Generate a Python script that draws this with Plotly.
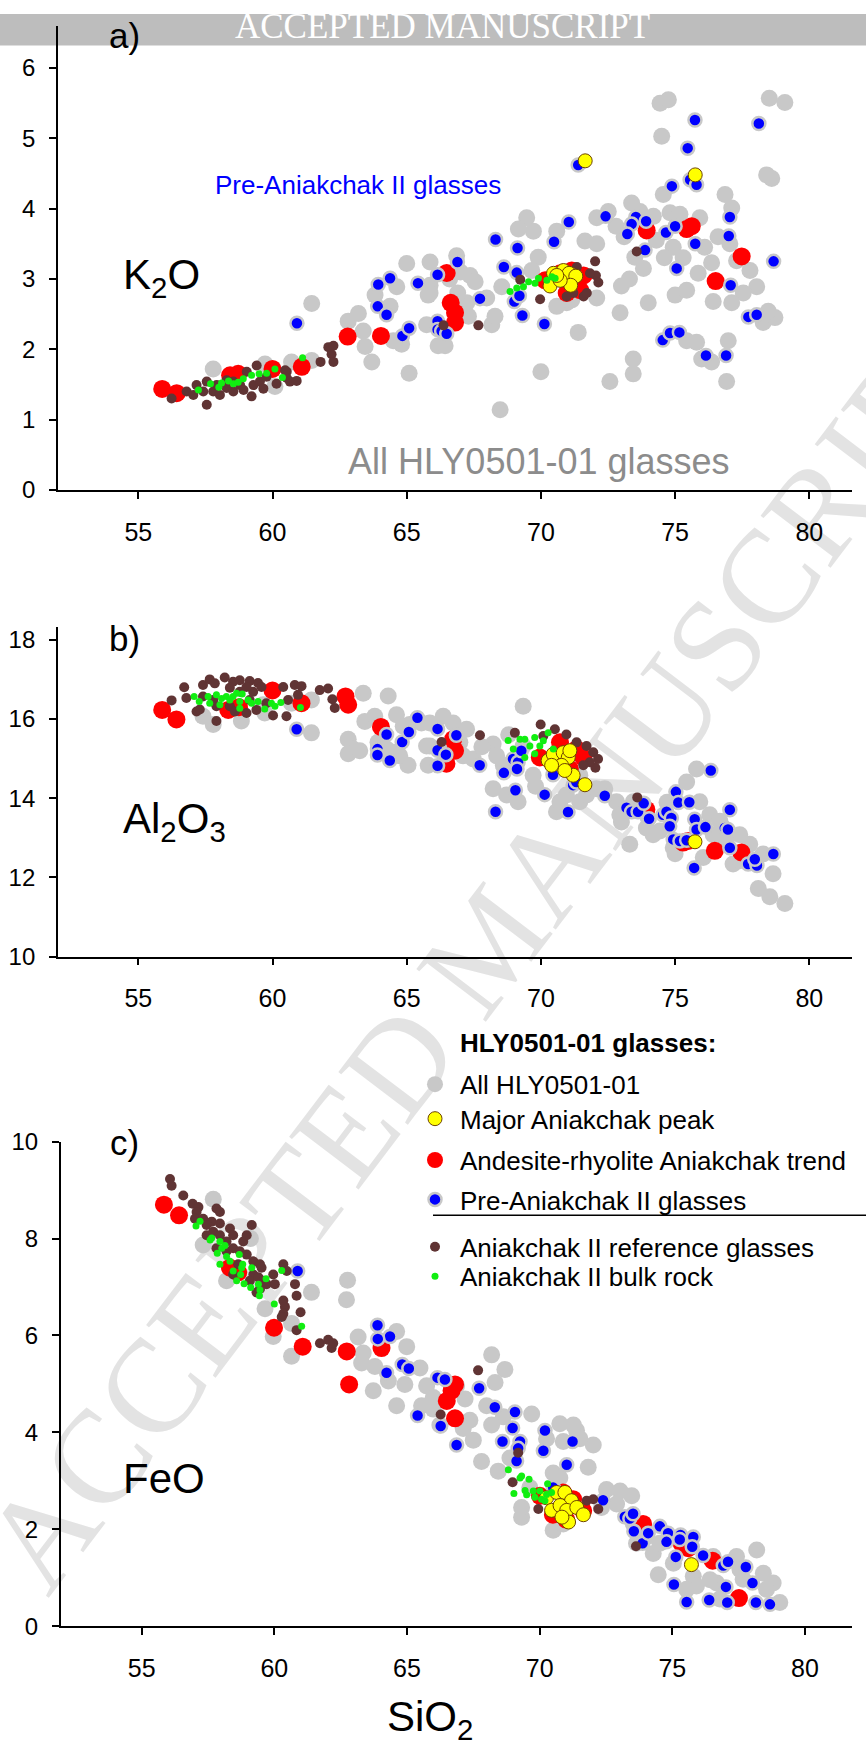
import plotly.graph_objects as go

# ---------------- data (SiO2, oxide) ----------------
# Panel a: K2O
gray_a = [(57.79,1.72),(59.72,1.79),(60.09,1.47),(60.71,1.82),(61.46,1.84),(61.46,2.65),(62.82,2.40),(63.2,2.51),
          (63.38,2.26),(63.45,2.04),(63.7,1.82),(63.82,2.77),(64.38,2.61),(64.63,2.89),(64.5,2.12),(64.81,2.07),
          (65.0,3.22),(65.09,1.66),(65.87,3.24),(65.87,2.91),(65.8,2.77),(65.74,2.35),(66.17,2.05),(65.87,2.80),
          (66.86,3.33),(67.36,3.05),(67.55,2.96),(67.24,2.66),(67.3,2.47),(66.43,2.05),(68.17,2.35),(68.29,2.47),
          (67.98,2.73),(68.54,2.89),(69.47,3.87),(69.16,3.71),(69.72,3.68),(69.9,3.31),(69.66,3.12),(68.48,1.14),
          (70.0,1.68),(70.59,3.68),(71.64,3.54),(72.08,3.50),(71.39,2.24),(70.96,2.66),(70.59,2.61),(72.08,2.73),
          (72.08,3.87),(72.51,3.96),(72.95,2.52),(72.57,1.54),(73.44,1.86),(73.44,1.65),(73.38,4.08),(73.69,3.96),
          (73.5,3.31),(73.82,3.15),(74.0,2.66),(74.19,3.89),(74.81,3.94),(74.56,4.20),(74.5,5.03),(74.44,5.50),
          (74.75,5.55),(75.18,3.92),(75.92,3.87),(74.93,3.45),(75.0,2.77),(75.43,2.84),(75.43,2.12),(75.8,2.10),
          (75.99,1.86),(76.36,1.82),(75.86,3.08),(76.36,3.23),(76.42,2.68),(76.86,4.20),(77.11,4.01),(77.04,3.50),
          (77.29,3.26),(77.79,3.12),(78.04,2.89),(77.54,2.80),(77.11,2.66),(76.98,2.12),(76.92,1.54),(78.28,2.38),
          (78.72,2.45),(78.47,2.54),(78.41,4.48),(78.6,4.43),(78.51,5.57),(79.09,5.51),(75.82,6.65),
          (72.8,3.75),(73.1,3.6),(74.3,3.55),(74.6,3.3),(75.3,3.3),(76.6,3.6),(76.1,3.45),(66.6,3.0),(66.9,2.8),
          (67.0,3.1),(71.15,2.7),(73.0,2.9),(73.3,3.0)]
red_a = [(55.89,1.435),(56.43,1.375),(58.42,1.63),(58.72,1.65),(60.0,1.72),(61.09,1.75),(62.8,2.18),(64.04,2.19),
         (66.49,3.085),(66.64,2.66),(66.8,2.52),(66.8,2.38),(70.16,2.98),(70.72,3.08),(71.15,3.12),(71.59,3.05),
         (70.96,2.80),(71.46,2.84),(73.94,3.69),(75.43,3.71),(75.62,3.75),(77.48,3.32),(76.51,2.97)]
blue_a = [(60.91,2.37),(63.94,2.92),(64.38,3.01),(63.92,2.61),(64.25,2.49),(64.84,2.19),(65.09,2.30),(65.42,2.94),
          (66.15,2.40),(66.15,2.28),(66.15,3.06),(66.89,3.24),(66.3,2.26),(66.49,2.22),(67.73,2.72),(68.31,3.56),
          (69.13,3.44),(68.62,3.17),(69.1,3.09),(69.01,2.68),(69.2,2.76),(69.31,2.48),(70.13,2.36),(70.49,3.53),
          (71.04,3.81),(71.39,4.62),(72.41,3.89),(73.54,3.88),(73.38,3.78),(73.22,3.64),(73.88,3.41),(73.92,3.82),
          (74.66,3.66),(75.0,3.75),(74.88,4.32),(75.47,4.86),(75.74,5.26),(75.56,4.41),(75.8,4.34),(75.75,3.50),
          (75.06,3.15),(77.04,3.88),(77.0,3.61),(77.07,2.91),(78.12,5.21),(78.67,3.25),(77.73,2.46),(78.04,2.49),
          (74.54,2.13),(74.81,2.23),(75.16,2.24),(76.15,1.91),(76.9,1.91)]
yellow_a = [(71.65,4.68),(75.75,4.48),(70.47,3.08),(70.84,3.12),(71.05,3.08),(71.3,3.04),(71.11,2.91),(70.34,2.90),
            (70.72,2.98),(70.59,3.05)]
brown_a = [(56.24,1.30),(56.8,1.40),(57.17,1.49),(57.55,1.21),(57.55,1.54),(57.79,1.40),(58.04,1.35),(58.29,1.45),
           (58.54,1.40),(58.54,1.54),(58.79,1.49),(59.04,1.68),(59.22,1.33),(59.41,1.77),(59.29,1.49),(59.53,1.54),
           (59.66,1.44),(59.78,1.61),(60.15,1.51),(60.53,1.68),(60.53,1.59),(60.65,1.54),(60.9,1.55),(61.79,1.82),
           (62.08,2.03),(62.27,2.05),(62.2,1.93),(62.27,1.82),(60.47,1.70),(57.05,1.35),(57.92,1.49),(58.92,1.42),
           (58.29,1.56),(57.42,1.40),(72.02,3.25),(72.05,3.05),(72.14,2.95),(71.59,2.75),(71.71,2.80),(69.97,2.71),
           (69.23,2.99),(73.57,3.39),(67.67,2.34),(66.37,2.34),(71.21,2.80),(70.96,2.75),(71.34,3.17),(71.83,3.08)]
green_a = [(57.24,1.42),(57.69,1.51),(58.0,1.46),(58.1,1.52),(58.36,1.55),(58.54,1.51),(58.72,1.53),(58.91,1.58),
           (59.22,1.63),(59.5,1.65),(59.78,1.66),(60.09,1.72),(60.37,1.60),(61.12,1.88),(68.85,2.82),(69.1,2.87),
           (69.35,2.89),(69.54,2.96),(69.78,2.94),(69.91,3.01),(70.22,2.98),(70.41,3.03),(70.53,3.01)]

# Panel b: Al2O3
gray_b = [(57.41,16.07),(57.79,15.86),(58.84,15.95),(59.71,16.15),(59.65,16.36),(60.71,16.40),(61.45,16.48),
          (61.45,15.65),(63.38,16.65),(64.31,16.58),(63.44,15.94),(63.81,16.07),(64.62,16.11),(64.87,15.82),
          (65.11,15.86),(65.55,15.90),(62.82,15.49),(63.0,15.24),(62.82,15.12),(63.25,15.20),(64.49,15.16),
          (65.05,14.83),(64.74,15.07),(65.8,14.83),(65.74,15.32),(65.86,15.90),(63.93,15.41),(64.25,15.24),
          (69.34,16.32),(66.36,16.07),(66.73,15.90),(67.23,15.74),(65.86,15.32),(67.1,15.07),(67.48,14.99),
          (68.22,15.37),(68.35,15.07),(68.6,14.83),(68.22,14.24),(68.72,14.08),(69.15,13.91),(69.71,14.58),
          (70.58,13.66),(70.71,13.91),(71.45,13.91),(71.7,14.08),(72.07,14.24),(72.38,14.24),(72.82,13.91),
          (72.94,13.58),(73.44,13.91),(73.31,12.84),(73.93,13.25),(74.43,13.17),(74.18,13.08),(74.93,12.75),
          (75.8,14.74),(75.43,14.41),(75.92,13.91),(76.29,13.58),(76.42,13.08),(76.05,12.50),(76.67,13.42),
          (77.41,13.08),(77.78,12.84),(78.28,12.59),(78.65,12.09),(78.1,11.72),(78.53,11.51),(79.09,11.34),
          (77.16,12.34),(77.41,12.42),(69.34,15.32),(71.45,14.58),(70.95,14.08),(66.48,14.99),(66.24,15.24),
          (66.98,15.41),(67.8,15.3),(68.8,15.6),(69.8,14.3),(73.0,13.4),(74.0,13.5),(74.7,13.9),(75.0,12.6),
          (76.9,12.9)]
red_b = [(55.89,16.23),(56.42,15.99),(58.35,16.23),(58.75,16.30),(60.0,16.72),(61.08,16.40),(62.72,16.57),
         (62.82,16.36),(64.04,15.80),(66.73,15.49),(66.8,15.20),(66.48,14.87),(69.96,15.03),(70.71,15.41),
         (71.58,15.03),(71.33,15.24),(71.08,14.74),(70.46,14.91),(73.93,13.71),(75.3,12.88),(75.48,12.92),
         (76.48,12.67),(77.47,12.63)]
blue_b = [(60.9,15.74),(64.25,15.61),(63.91,15.24),(63.91,15.09),(64.37,14.95),(64.83,15.42),(65.08,15.67),
          (65.4,16.03),(66.15,15.75),(66.15,15.21),(66.15,14.82),(66.85,15.59),(66.46,15.10),(67.72,14.83),
          (68.62,14.64),(69.05,14.20),(68.31,13.66),(68.96,14.99),(69.15,14.91),(69.11,14.74),(69.27,15.20),
          (70.14,14.09),(71.01,13.65),(70.45,14.59),(71.2,14.33),(71.32,14.41),(72.38,14.06),(73.19,13.76),
          (73.38,13.66),(73.62,13.66),(73.83,13.87),(74.03,13.48),(74.55,13.58),(74.68,13.66),(74.86,13.50),
          (74.8,13.29),(75.03,14.16),(75.12,13.89),(75.53,13.90),(76.33,14.70),(75.73,13.47),(75.8,13.21),
          (76.13,13.27),(74.93,12.96),(75.18,12.92),(75.43,12.94),(75.71,12.24),(77.04,13.71),(76.85,13.25),
          (76.97,13.21),(77.04,12.75),(77.72,12.34),(78.05,12.30),(77.97,12.46),(78.66,12.59)]
yellow_b = [(71.64,14.34),(75.74,12.90),(70.27,14.95),(70.46,15.11),(70.83,15.15),(71.02,15.03),(70.77,14.83),
            (71.2,14.58),(70.89,14.70),(70.4,14.83),(71.08,15.20)]
brown_b = [(56.71,16.8),(56.24,16.47),(56.79,16.53),(57.17,16.19),(57.41,16.86),(57.66,17.0),(57.85,16.9),
           (57.91,15.95),(58.22,17.05),(58.53,16.94),(58.78,16.98),(59.15,16.96),(59.46,16.91),(58.41,16.79),
           (58.78,16.69),(59.28,16.69),(59.59,16.81),(59.03,16.15),(59.4,16.23),(59.77,16.40),(60.02,16.09),
           (60.4,16.81),(60.58,16.48),(60.52,16.07),(60.83,16.86),(61.08,16.83),(60.95,16.61),(61.76,16.73),
           (62.07,16.77),(62.23,16.5),(62.32,16.28),(57.79,16.48),(59.15,16.48),(57.91,16.32),(58.41,16.32),
           (57.41,16.57),(57.29,16.24),(59.03,16.81),(58.6,16.19),(67.73,15.59),(66.3,15.42),(69.03,15.65),
           (69.99,15.86),(70.52,15.74),(70.95,15.61),(71.33,15.41),(71.7,15.32),(71.95,15.16),(72.13,14.99),
           (72.03,14.77),(71.82,14.91),(71.58,14.83),(73.59,14.02),(70.09,15.57)]
green_b = [(57.08,16.57),(57.27,16.44),(57.6,16.57),(57.91,16.61),(58.1,16.52),(58.28,16.57),(58.53,16.57),
           (58.66,16.65),(58.87,16.63),(58.78,16.44),(59.09,16.48),(59.22,16.4),(59.46,16.44),(59.71,16.25),
           (59.96,16.4),(60.09,16.32),(60.31,16.42),(61.04,16.29),(58.78,16.27),(58.04,16.36),(58.41,16.48),
           (57.66,16.4),(68.78,15.46),(69.22,15.49),(69.4,15.49),(69.77,15.53),(70.09,15.45),(70.27,15.65),
           (70.46,15.24),(68.97,15.24),(69.4,15.03),(69.77,15.12),(69.59,15.32),(69.96,15.32)]

# Panel c: FeO
gray_c = [(57.7,8.81),(57.32,7.87),(58.2,7.13),(59.65,6.55),(59.96,5.98),(60.65,6.25),(60.65,5.57),(61.4,6.89),
          (62.76,7.14),(62.72,6.74),(63.16,5.97),(63.35,5.64),(63.29,5.43),(63.79,5.36),(63.73,4.86),(64.3,5.06),
          (64.61,6.08),(64.99,5.77),(64.92,4.99),(64.61,4.55),(65.49,5.33),(65.74,4.96),(65.55,4.55),(65.99,4.72),
          (66.87,4.96),(67.19,4.69),(67.37,4.25),(67.5,3.84),(67.12,4.08),(66.24,4.15),(65.99,4.48),(68.19,5.60),
          (68.69,5.30),(68.32,5.03),(68.0,4.55),(68.63,4.32),(69.7,4.38),(68.19,4.15),(67.81,3.40),(68.44,3.20),
          (68.88,3.47),(70.76,4.18),(70.89,3.81),(71.39,4.04),(72.02,3.74),(71.83,3.28),(70.51,3.16),(70.76,3.06),
          (69.63,2.86),(69.32,2.25),(69.32,2.45),(70.51,1.98),(70.89,2.11),(72.52,2.82),(73.03,2.79),(73.47,2.69),
          (72.9,2.52),(72.33,2.45),(73.53,2.11),(73.65,1.71),(74.03,1.84),(74.28,1.50),(74.53,1.71),(74.47,1.06),
          (75.04,1.30),(75.79,1.03),(75.91,0.83),(76.54,1.44),(76.67,0.89),(77.42,1.44),(77.67,0.97),(78.18,1.57),
          (78.43,1.09),(78.8,0.89),(79.05,0.49),(78.55,0.76),(77.55,1.17),(75.54,0.76),(76.42,0.96),(76.79,0.56),
          (71.27,4.15),(71.52,3.87),(70.26,3.87),(59.1,8.0)]
red_c = [(55.84,8.70),(56.41,8.48),(58.33,7.40),(58.64,7.30),(59.99,6.16),(61.07,5.77),(62.73,5.67),(62.82,4.99),
         (64.04,5.74),(66.81,4.99),(66.68,4.86),(66.5,4.65),(66.81,4.29),(70.01,2.69),(70.88,2.76),(71.26,2.62),
         (71.64,2.38),(70.5,2.3),(71.0,2.2),(73.9,2.11),(75.35,1.71),(75.6,1.61),(76.52,1.35),(77.51,0.58)]
blue_c = [(60.88,7.33),(63.89,6.21),(64.36,5.98),(63.9,5.93),(64.23,5.23),(64.82,5.40),(65.07,5.32),(65.4,4.35),
          (66.15,5.13),(66.43,5.09),(67.72,4.91),(66.27,4.13),(66.87,3.74),(68.31,4.52),(69.07,4.42),(68.98,4.09),
          (68.6,3.81),(69.26,3.81),(69.19,3.67),(69.13,3.41),(70.2,4.04),(70.14,3.62),(71.24,3.81),(71.02,3.33),
          (70.51,2.86),(72.39,2.60),(73.21,2.26),(73.4,2.22),(73.52,2.32),(73.55,1.96),(73.88,1.71),(74.09,1.92),
          (74.53,2.06),(74.84,1.92),(74.78,1.74),(75.31,1.88),(75.28,1.79),(75.79,1.84),(75.75,1.64),(75.13,1.43),
          (76.16,1.46),(76.92,1.25),(77.1,1.33),(77.77,1.22),(78.02,0.89),(75.06,0.86),(77.02,0.81),(75.54,0.50),
          (76.39,0.54),(77.07,0.49),(78.15,0.49),(78.68,0.45)]
yellow_c = [(75.72,1.27),(70.26,2.65),(70.64,2.76),(70.95,2.76),(71.2,2.59),(70.45,2.39),(70.77,2.49),(71.02,2.39),
            (71.4,2.45),(71.65,2.30),(71.09,2.15),(70.84,2.25)]
brown_c = [(56.07,9.23),(56.13,9.09),(56.57,8.89),(56.92,8.72),(57.14,8.65),(57.07,8.55),(57.01,8.41),(57.32,8.41),
           (57.64,8.35),(57.95,8.31),(57.7,8.14),(57.45,8.07),(57.95,8.07),(58.33,8.21),(58.45,8.07),(58.2,7.94),
           (58.45,7.8),(58.83,7.94),(58.7,7.74),(58.96,7.67),(59.15,8.28),(58.96,8.07),(59.21,7.53),(59.46,7.47),
           (59.52,7.4),(59.21,7.26),(59.08,7.13),(59.4,7.2),(59.58,7.13),(59.96,7.26),(59.71,7.06),(60.02,7.06),
           (59.46,6.96),(59.33,6.89),(60.34,7.47),(60.47,7.33),(60.34,6.72),(60.4,6.59),(60.34,6.45),(60.28,6.38),
           (60.78,7.06),(60.84,6.82),(60.99,6.48),(60.84,6.11),(57.82,8.62),(57.95,8.55),(57.45,8.28),(57.82,7.8),
           (58.2,7.74),(58.64,7.47),(58.45,7.26),(61.72,5.84),(62.03,5.91),(62.16,5.74),(62.22,5.84),(67.68,5.28),
           (66.27,4.37),(69.19,3.58),(68.98,2.97),(69.95,2.42),(71.77,2.59),(72.02,2.62),(72.21,2.42),(73.63,1.65)]
green_c = [(57.2,8.36),(57.05,8.26),(57.58,7.97),(57.64,8.01),(57.95,7.94),(58.02,7.8),(58.14,7.86),(57.85,7.7),
           (58.2,7.63),(58.33,7.53),(57.95,7.47),(58.45,7.33),(58.77,7.4),(58.68,7.67),(58.81,7.47),(58.73,7.26),
           (59.15,7.4),(58.58,7.13),(58.86,7.07),(59.11,6.99),(59.4,7.06),(59.46,6.94),(59.44,6.82),(59.69,7.17),
           (60.0,6.65),(60.28,7.34),(61.03,6.19),(68.82,3.23),(69.26,3.06),(69.32,3.1),(69.6,3.03),(69.03,2.74),
           (69.45,2.8),(69.51,2.71),(69.76,2.79),(69.82,2.66),(70.01,2.79),(70.07,2.62),(70.3,2.94),(70.26,2.72),
           (70.2,2.59),(70.45,2.76)]

x_ticks = [55, 60, 65, 70, 75, 80]
panel_labels = ["a)", "b)", "c)"]
oxide_labels = ["K<sub>2</sub>O", "Al<sub>2</sub>O<sub>3</sub>", "FeO"]

# ---------------- styling ----------------
W, H = 866, 1758
FONT = "Liberation Sans, Arial, sans-serif"
GRAY = "#c8c8c8"
BROWN = "#603434"


def px(v):
    return v / W


def py(v):
    return 1 - v / H


series = [
    ("All HLY0501-01", [gray_a, gray_b, gray_c], dict(color=GRAY, size=17), "legend"),
    ("Andesite-rhyolite Aniakchak trend", [red_a, red_b, red_c], dict(color="#ff0000", size=18), "legend3"),
    ("Pre-Aniakchak II glasses", [blue_a, blue_b, blue_c],
     dict(color="#0000ff", size=13, line=dict(color=GRAY, width=2.5)), "legend4"),
    ("Aniakchak II reference glasses", [brown_a, brown_b, brown_c], dict(color=BROWN, size=10), "legend5"),
    ("Major Aniakchak peak", [yellow_a, yellow_b, yellow_c],
     dict(color="#ffff00", size=14, line=dict(color="#6e4400", width=1)), "legend2"),
    ("Aniakchak II bulk rock", [green_a, green_b, green_c], dict(color="#11ee11", size=7), "legend6"),
]

fig = go.Figure()
axes = [("x", "y"), ("x2", "y2"), ("x3", "y3")]
for name, data, marker, leg in series:
    for i, pts in enumerate(data):
        fig.add_trace(go.Scatter(
            x=[p[0] for p in pts], y=[p[1] for p in pts], mode="markers",
            name=name, marker=marker, xaxis=axes[i][0], yaxis=axes[i][1],
            showlegend=(i == 0), legend=leg, cliponaxis=False, hoverinfo="skip"))

axis_common = dict(showline=True, linecolor="black", linewidth=1.5, showgrid=False, zeroline=False,
                   ticks="outside", ticklen=7, tickwidth=1.5, tickcolor="black",
                   tickfont=dict(family=FONT, size=24, color="black"))
xcommon = dict(axis_common, tickvals=x_ticks, tickfont=dict(family=FONT, size=25, color="black"),
               ticklabelstandoff=12)
ycommon = dict(axis_common, ticklabelstandoff=9)

fig.update_layout(
    width=W, height=H, margin=dict(l=0, r=0, t=0, b=0),
    paper_bgcolor="white", plot_bgcolor="rgba(0,0,0,0)",
    font=dict(family=FONT, color="black"),
    xaxis=dict(xcommon, domain=[px(57.8), px(851.7)], range=[52, 81.58], anchor="y"),
    yaxis=dict(ycommon, domain=[py(483.3), py(12)], range=[0, 6.6], dtick=1, tick0=0, anchor="x"),
    xaxis2=dict(xcommon, domain=[px(57.8), px(851.7)], range=[52, 81.58], anchor="y2"),
    yaxis2=dict(ycommon, domain=[py(957.3), py(622.7)], range=[10, 18.32], dtick=2, tick0=10, anchor="x2"),
    xaxis3=dict(xcommon, domain=[px(60.7), px(851.7)], range=[51.95, 81.76], anchor="y3"),
    yaxis3=dict(ycommon, domain=[py(1637.3), py(1145.3)], range=[0, 10], dtick=2, tick0=0, anchor="x3"),
)

# legends: one per entry so rows sit at the reference positions
leg_rows = {"legend": 1087, "legend2": 1122, "legend3": 1164, "legend4": 1204, "legend5": 1252, "legend6": 1282}
for key, ypix in leg_rows.items():
    fig.update_layout({key: dict(x=px(410), y=py(ypix), xanchor="left", yanchor="middle",
                                 bgcolor="rgba(0,0,0,0)", borderwidth=0, itemwidth=40,
                                 font=dict(family=FONT, size=26, color="black"))})

# shapes: header band, watermark, legend separator
fig.add_shape(type="rect", xref="paper", yref="paper", x0=0, x1=1, y0=py(32), y1=1,
              fillcolor="#bdbdbd", line_width=0, layer="below")
fig.add_shape(type="rect", xref="paper", yref="paper", x0=px(468), x1=px(488), y0=py(945), y1=py(925),
              fillcolor="rgba(0,0,0,0)", line_width=0, layer="below",
              label=dict(text="ACCEPTED MANUSCRIPT", textangle=-52.8, textposition="middle center",
                         font=dict(family="Liberation Serif, Times New Roman, serif", size=133, color="#e3e3e3")))
fig.add_shape(type="line", xref="paper", yref="paper", x0=px(433), x1=1, y0=py(1220), y1=py(1220),
              line=dict(color="black", width=1.5))

ann = []
ann.append(dict(text="ACCEPTED MANUSCRIPT", x=px(443), y=py(13), xanchor="center", yanchor="middle",
                font=dict(family="Liberation Serif, Times New Roman, serif", size=35, color="white")))
for lab, (xx, yy) in zip(panel_labels, [(107, 22), (107, 634), (108, 1146)]):
    ann.append(dict(text=lab, x=px(xx), y=py(yy), xanchor="left", yanchor="middle",
                    font=dict(family=FONT, size=35, color="black")))
for lab, yy in zip(oxide_labels, [268, 820, 1487]):
    ann.append(dict(text=lab, x=px(121), y=py(yy), xanchor="left", yanchor="middle",
                    font=dict(family=FONT, size=42, color="black")))
ann.append(dict(text="Pre-Aniakchak II glasses", x=px(213), y=py(174), xanchor="left", yanchor="middle",
                font=dict(family=FONT, size=26, color="#0000ff")))
ann.append(dict(text="All HLY0501-01 glasses", x=px(346), y=py(454), xanchor="left", yanchor="middle",
                font=dict(family=FONT, size=36, color="#8c8c8c")))
ann.append(dict(text="<b>HLY0501-01 glasses:</b>", x=px(458), y=py(1045), xanchor="left", yanchor="middle",
                font=dict(family=FONT, size=26, color="black")))
ann.append(dict(text="SiO<sub>2</sub>", x=px(430), y=py(1732), xanchor="center", yanchor="middle",
                font=dict(family=FONT, size=42, color="black")))
for a in ann:
    a.update(xref="paper", yref="paper", showarrow=False)
fig.update_layout(annotations=ann)

fig.write_html("out.html")
